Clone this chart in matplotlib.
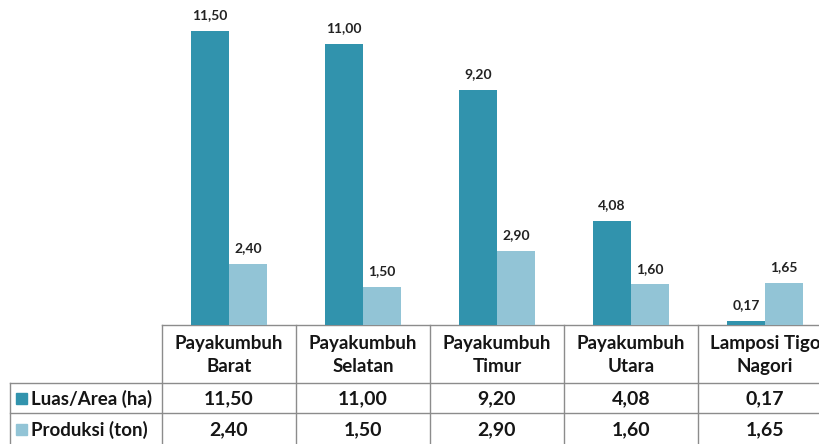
import matplotlib
matplotlib.use("Agg")
import matplotlib.pyplot as plt
import numpy as np

categories = ["Payakumbuh\nBarat", "Payakumbuh\nSelatan", "Payakumbuh\nTimur",
              "Payakumbuh\nUtara", "Lamposi Tigo\nNagori"]
luas = [11.50, 11.00, 9.20, 4.08, 0.17]
produksi = [2.40, 1.50, 2.90, 1.60, 1.65]
series_names = ["Luas/Area (ha)", "Produksi (ton)"]

dark = "#3193ad"
light = "#92c4d6"
grid_col = "#8c8c8c"
font = "Lato"
txt_col = "#151515"

def fmt(v):
    return f"{v:.2f}".replace(".", ",")

W, H = 819, 444
fig = plt.figure(figsize=(W / 100, H / 100), dpi=100)

# pixel layout of the plot/table
x0, col_w = 162, 134
base_y = 325
ncol = len(categories)

# bar axes
ax = fig.add_axes([x0 / W, (H - base_y) / H, ncol * col_w / W, base_y / H])
x = np.arange(ncol)
bw = 0.284
ax.bar(x - bw / 2, luas, bw, color=dark)
ax.bar(x + bw / 2, produksi, bw, color=light)
for off, vals in ((-bw / 2, luas), (bw / 2, produksi)):
    for xi, v in zip(x, vals):
        ax.text(xi + off, v + 0.36, fmt(v), ha="center", va="bottom",
                fontsize=10, fontweight="bold", family=font, color="#222222")
ax.set_xlim(-0.5, ncol - 0.5)
ax.set_ylim(0, 12.7)
ax.axis("off")

# data table drawn in pixel coordinates
tab = fig.add_axes([0, 0, 1, 1], zorder=-1)
tab.set_xlim(0, W)
tab.set_ylim(H, 0)
tab.axis("off")

right = x0 + ncol * col_w
row1, row2, row3 = 383, 413, 444
lw = 1.0
tab.plot([x0, right], [base_y, base_y], color=grid_col, lw=lw)
tab.plot([10, right], [row1, row1], color=grid_col, lw=lw)
tab.plot([10, right], [row2, row2], color=grid_col, lw=lw)
tab.plot([10, 10], [row1, row3], color=grid_col, lw=lw)
for i in range(ncol + 1):
    xx = x0 + i * col_w
    tab.plot([xx, xx], [base_y, row3], color=grid_col, lw=lw)

fs = 13.5
for i, cat in enumerate(categories):
    cx = x0 + (i + 0.5) * col_w
    tab.text(cx, (base_y + row1) / 2 + 1, cat, ha="center", va="center",
             fontsize=fs, fontweight="bold", family=font, color=txt_col,
             linespacing=1.45)
    tab.text(cx, (row1 + row2) / 2 + 1, fmt(luas[i]), ha="center", va="center",
             fontsize=fs + 0.5, fontweight="bold", family=font, color=txt_col)
    tab.text(cx, (row2 + row3) / 2 + 1, fmt(produksi[i]), ha="center", va="center",
             fontsize=fs + 0.5, fontweight="bold", family=font, color=txt_col)

for name, col, (ya, yb) in zip(series_names, [dark, light], [(row1, row2), (row2, row3)]):
    yc = (ya + yb) / 2
    tab.add_patch(plt.Rectangle((16, yc - 5), 11, 11, color=col))
    tab.text(31, yc + 1, name, ha="left", va="center", fontsize=fs,
             fontweight="bold", family=font, color=txt_col)

fig.savefig("out.png", dpi=100)
